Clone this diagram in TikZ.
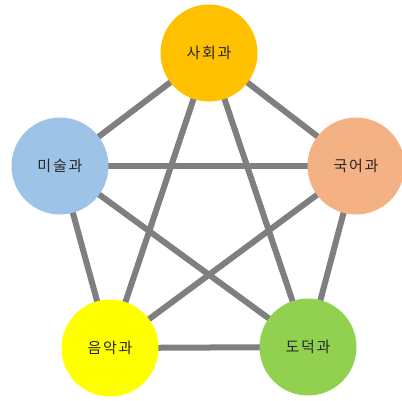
\documentclass[tikz,border=0pt]{standalone}
\usepackage{fontspec}
\newfontfamily\krfont[LetterSpace=12]{Noto Sans CJK KR}
\usepackage{tikz}
\usetikzlibrary{backgrounds}

\definecolor{sahoe}{HTML}{FFC000}
\definecolor{gugeo}{HTML}{F4B183}
\definecolor{misul}{HTML}{9DC3E6}
\definecolor{eumak}{HTML}{FFFF00}
\definecolor{dodeok}{HTML}{92D050}
\definecolor{linkgray}{HTML}{7F7F7F}

\begin{document}
\begin{tikzpicture}[
    x=1pt, y=-1pt,
    subject/.style={circle, draw=none, minimum size=97pt, inner sep=0pt, font=\krfont\fontsize{15}{17}\selectfont, text=black!85},
    link/.style={draw=linkgray, line width=6pt}
]
    \clip (0,0) rectangle (402,400);
    \useasboundingbox (0,0) rectangle (402,400);

    % Subjects
    \node[subject, fill=sahoe] (sahoe) at (209,53) {사회과};
    \node[subject, fill=gugeo] (gugeo) at (356,166) {국어과};
    \node[subject, fill=misul] (misul) at (60,166) {미술과};
    \node[subject, fill=eumak] (eumak) at (110,348) {음악과};
    \node[subject, fill=dodeok] (dodeok) at (308,347) {도덕과};

    % Links
    \begin{scope}[on background layer]
        \draw[link] (sahoe.center) -- (gugeo.center);
        \draw[link] (sahoe.center) -- (misul.center);
        \draw[link] (sahoe.center) -- (eumak.center);
        \draw[link] (sahoe.center) -- (dodeok.center);
        \draw[link] (gugeo.center) -- (misul.center);
        \draw[link] (gugeo.center) -- (eumak.center);
        \draw[link] (gugeo.center) -- (dodeok.center);
        \draw[link] (misul.center) -- (eumak.center);
        \draw[link] (misul.center) -- (dodeok.center);
        \draw[link] (eumak.center) -- (dodeok.center);
    \end{scope}
\end{tikzpicture}
\end{document}
